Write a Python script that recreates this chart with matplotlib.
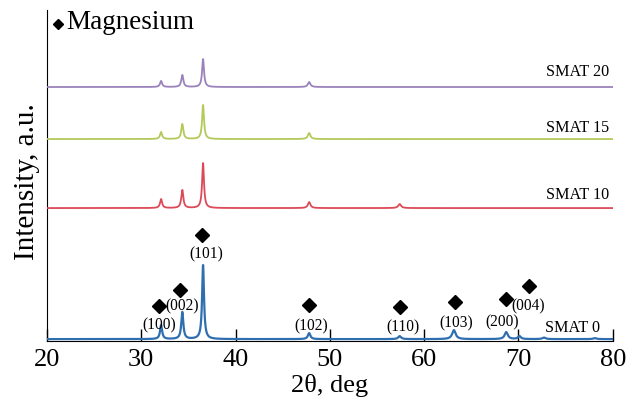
import matplotlib
matplotlib.use("Agg")
import matplotlib.pyplot as plt
import numpy as np

# peak positions (2theta, deg) shared by all samples
pos_picos = [32.1, 34.35, 36.55, 47.8, 57.4, 63.15, 68.7, 70.1, 72.7, 78.1]
largura_picos = [0.13, 0.13, 0.12, 0.16, 0.18, 0.22, 0.2, 0.18, 0.2, 0.2]

# peak heights above each baseline (a.u.)
alturas_smat0 = [14, 27, 74, 6, 3, 9, 7, 3, 1.5, 1]
alturas_smat10 = [9, 18, 45, 6, 4, 0, 0, 0, 0, 0]
alturas_smat15 = [7, 15, 34, 6, 0, 0, 0, 0, 0, 0]
alturas_smat20 = [6, 12, 28, 5, 0, 0, 0, 0, 0, 0]

linhas_base = [2, 133, 202, 254]
nomes_amostras = ["SMAT 0", "SMAT 10", "SMAT 15", "SMAT 20"]
cores = ["#2f6fb0", "#dc4a58", "#b3c95a", "#9a82bb"]
y_rotulos = [13, 146, 213, 269]

# Miller indices with marker / label positions
indices_hkl = ["(100)", "(002)", "(101)", "(102)", "(110)", "(103)", "(200)", "(004)"]
x_marcadores = [31.87, 34.1, 36.43, 47.78, 57.42, 63.25, 68.66, 71.1]
y_marcadores = [35, 51, 106, 36, 34, 39, 42, 55]
x_indices = [31.87, 34.31, 36.86, 47.99, 57.74, 63.36, 68.23, 70.99]
y_indices = [16, 35, 87, 15, 14, 18, 19, 35]

plt.rcParams["font.family"] = ["Liberation Serif", "DejaVu Serif"]


def perfil_xrd(x, alturas, base):
    y = np.full_like(x, base, dtype=float)
    for p, h, w in zip(pos_picos, alturas, largura_picos):
        y += h / (1 + ((x - p) / w) ** 2)
    return y


fig = plt.figure(figsize=(6.35, 4.16), dpi=100)
ax = fig.add_axes([0.074, 0.18, 0.891, 0.796])

x = np.linspace(20, 80, 6000)
todas_alturas = [alturas_smat0, alturas_smat10, alturas_smat15, alturas_smat20]
for alturas, base, cor, nome, yr in zip(todas_alturas, linhas_base, cores, nomes_amostras, y_rotulos):
    lw = 1.6 if nome == "SMAT 0" else 1.3
    ax.plot(x, perfil_xrd(x, alturas, base), color=cor, lw=lw, zorder=3)
    ax.text(79.6 if nome != "SMAT 0" else 78.6, yr, nome, ha="right", va="center", fontsize=11.6)

ax.plot(x_marcadores, y_marcadores, "D", color="black", ms=6.8, ls="none")
for rotulo, xi, yi in zip(indices_hkl, x_indices, y_indices):
    ax.text(xi, yi, rotulo, ha="center", va="center", fontsize=11.2)

# legend-like label in top left
ax.plot([21.15], [317], "D", color="black", ms=5)
ax.text(22.0, 318, "Magnesium", ha="left", va="center", fontsize=19.5)

ax.set_xlim(20, 80)
ax.set_ylim(0, 331)
ax.set_xticks([20, 30, 40, 50, 60, 70, 80])
ax.set_yticks([])
ax.tick_params(axis="x", direction="in", length=9, width=1, labelsize=19, pad=6)
ax.spines["top"].set_visible(False)
ax.spines["right"].set_visible(False)
ax.set_xlabel("2θ, deg", fontsize=19, labelpad=2)
ax.set_ylabel("Intensity, a.u.", fontsize=21)
ax.yaxis.set_label_coords(-0.013, 0.483)

plt.savefig("out.png", dpi=100)
plt.close()
